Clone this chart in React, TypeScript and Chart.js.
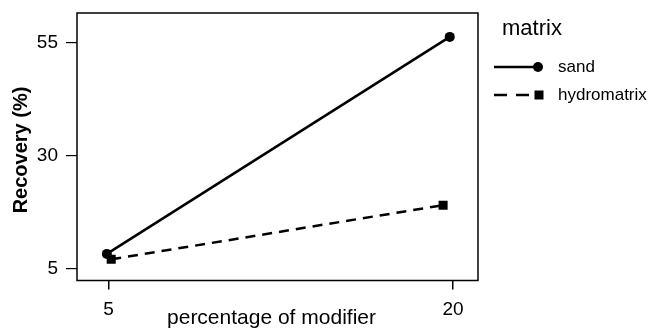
import React, { useEffect, useRef } from "react";
import { Chart, registerables } from "chart.js";

Chart.register(...registerables);

const seriesNames = ["sand", "hydromatrix"];
const sandX = [4.93, 19.86];
const sandY = [8.2, 56.3];
const hydroX = [5.12, 19.57];
const hydroY = [7.0, 19.0];
const xTicks = [5, 20];
const yTicks = [5, 30, 55];
const legendTitle = "matrix";
const xTitle = "percentage of modifier";
const yTitle = "Recovery (%)";

const FONT = "'Liberation Sans', Arial, sans-serif";

const boxAndTextPlugin = {
  id: "boxAndText",
  afterDraw(chart: any) {
    const { ctx, chartArea } = chart;
    const { left, right, top, bottom } = chartArea;
    ctx.save();
    ctx.strokeStyle = "#000";
    ctx.lineWidth = 1.5;
    ctx.strokeRect(left, top, right - left, bottom - top);

    // axis titles
    ctx.fillStyle = "#000";
    ctx.font = `21px ${FONT}`;
    ctx.textAlign = "center";
    ctx.textBaseline = "alphabetic";
    ctx.fillText(xTitle, (left + right) / 2 - 6, 324);

    ctx.save();
    ctx.translate(27, 150);
    ctx.rotate(-Math.PI / 2);
    ctx.font = `bold 20px ${FONT}`;
    ctx.fillText(yTitle, 0, 0);
    ctx.restore();

    // legend
    ctx.textAlign = "left";
    ctx.font = `22px ${FONT}`;
    ctx.fillText(legendTitle, 502, 35);
    ctx.font = `17px ${FONT}`;
    const rows = [67, 95];
    chart.data.datasets.forEach((ds: any, i: number) => {
      const y = rows[i];
      ctx.strokeStyle = "#000";
      ctx.lineWidth = 2.5;
      ctx.setLineDash(ds.borderDash ? [13, 9] : []);
      ctx.beginPath();
      ctx.moveTo(494, y);
      ctx.lineTo(537, y);
      ctx.stroke();
      ctx.setLineDash([]);
      ctx.fillStyle = "#000";
      if (ds.pointStyle === "rect") {
        ctx.fillRect(534.5, y - 4.5, 9, 9);
      } else {
        ctx.beginPath();
        ctx.arc(538, y, 5, 0, Math.PI * 2);
        ctx.fill();
      }
      ctx.textBaseline = "middle";
      ctx.fillText(ds.label, 558, y);
      ctx.textBaseline = "alphabetic";
    });
    ctx.restore();
  },
};

function zeroPad(axis: any) {
  axis.paddingTop = 0;
  axis.paddingBottom = 0;
  axis.paddingLeft = 0;
  axis.paddingRight = 0;
}

export default function App() {
  const ref = useRef<HTMLCanvasElement>(null);
  useEffect(() => {
    const canvas = ref.current;
    if (!canvas) return;
    const chart = new Chart(canvas, {
      type: "line",
      data: {
        datasets: [
          {
            label: seriesNames[0],
            data: sandX.map((x, i) => ({ x, y: sandY[i] })),
            borderColor: "#000",
            backgroundColor: "#000",
            borderWidth: 2.5,
            pointStyle: "circle",
            pointRadius: 5,
            pointBorderWidth: 0,
          },
          {
            label: seriesNames[1],
            data: hydroX.map((x, i) => ({ x, y: hydroY[i] })),
            borderColor: "#000",
            backgroundColor: "#000",
            borderWidth: 2.5,
            borderDash: [10, 7],
            pointStyle: "rect",
            pointRadius: 6.4,
            pointBorderWidth: 0,
          },
        ],
      },
      options: {
        animation: false,
        responsive: false,
        maintainAspectRatio: false,
        layout: { padding: { left: 0, top: 13, right: 173, bottom: 0 } },
        plugins: { legend: { display: false }, tooltip: { enabled: false } },
        scales: {
          x: {
            type: "linear",
            min: 3.63,
            max: 21.09,
            afterBuildTicks: (axis: any) => {
              axis.ticks = xTicks.map((v) => ({ value: v }));
            },
            afterFit: (axis: any) => {
              axis.height = 48.5;
              zeroPad(axis);
            },
            grid: {
              drawOnChartArea: false,
              drawTicks: true,
              tickLength: 9,
              color: "#000",
              lineWidth: 1.5,
            },
            border: { display: false },
            ticks: {
              color: "#000",
              font: { family: FONT, size: 19 },
              padding: 9,
              maxRotation: 0,
              callback: (v: any) => String(v),
            },
          },
          y: {
            type: "linear",
            min: 2.3,
            max: 61.6,
            afterBuildTicks: (axis: any) => {
              axis.ticks = yTicks.map((v) => ({ value: v }));
            },
            afterFit: (axis: any) => {
              axis.width = 77;
              zeroPad(axis);
            },
            grid: {
              drawOnChartArea: false,
              drawTicks: true,
              tickLength: 11,
              color: "#000",
              lineWidth: 1.2,
            },
            border: { display: false },
            ticks: {
              color: "#000",
              font: { family: FONT, size: 19 },
              padding: 8,
              callback: (v: any) => String(v),
            },
          },
        },
      },
      plugins: [boxAndTextPlugin],
    } as any);
    return () => chart.destroy();
  }, []);
  return (
    <div style={{ position: "fixed", left: 0, top: 0, width: 651, height: 329, background: "#fff" }}>
      <canvas ref={ref} width={651} height={329} style={{ width: 651, height: 329, display: "block" }} />
    </div>
  );
}
